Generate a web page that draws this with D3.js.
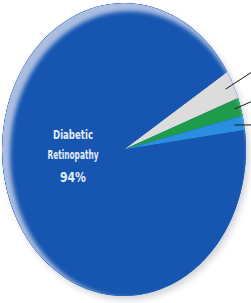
<!DOCTYPE html>
<html><head><meta charset="utf-8">
<script src="https://cdn.jsdelivr.net/npm/d3@7"></script>
<style>html,body{margin:0;padding:0;background:#fff;overflow:hidden}</style>
</head><body>
<svg id="c" width="251" height="303"></svg>
<script>
const categories = ["Other A", "Other B", "Other C", "Diabetic Retinopathy"];
const values = [3.2, 2.0, 1.6, 93.2];
const colors = ["#dcdcdc", "#1e9b4b", "#2a8fe0", "#1656b0"];
const mainLabel = ["Diabetic", "Retinopathy", "94%"];

const W = 251, H = 303;
const cx = 124, cy = 149.5, rx = 122, ry = 146.5;
const svg = d3.select("#c");
const defs = svg.append("defs");

defs.append("filter").attr("id","blur2").attr("x","-10%").attr("y","-10%").attr("width","120%").attr("height","120%")
  .append("feGaussianBlur").attr("stdDeviation", 2.2);
defs.append("filter").attr("id","blur4").attr("x","-10%").attr("y","-10%").attr("width","120%").attr("height","120%")
  .append("feGaussianBlur").attr("stdDeviation", 3);

const m = defs.append("mask").attr("id","cres");
m.append("ellipse").attr("cx",cx).attr("cy",cy).attr("rx",rx).attr("ry",ry).attr("fill","#fff");
m.append("ellipse").attr("cx",cx+5).attr("cy",cy+5).attr("rx",rx-3).attr("ry",ry-3).attr("fill","#000").attr("filter","url(#blur2)");

svg.append("ellipse").attr("cx",cx+3).attr("cy",cy+4).attr("rx",rx).attr("ry",ry)
  .attr("fill","#9aa0aa").attr("opacity",0.45).attr("filter","url(#blur4)");

const pie = d3.pie().sort(null).value(d => d)
  .startAngle(57.9 * Math.PI / 180).endAngle((57.9 + 360) * Math.PI / 180);
const arcs = pie(values);
const arc = d3.arc().innerRadius(0).outerRadius(1);

const g = svg.append("g").attr("transform", `translate(${cx},${cy}) scale(${rx},${ry})`);
g.append("ellipse").attr("rx",1).attr("ry",1).attr("fill", colors[3]);
g.selectAll("path.s").data(arcs).join("path").attr("class","s")
  .attr("d", arc).attr("fill", (d,i) => colors[i]);

svg.append("ellipse").attr("cx",cx).attr("cy",cy).attr("rx",rx).attr("ry",ry)
  .attr("fill","#c5d0ea").attr("opacity",0.85).attr("mask","url(#cres)");

const slopes = [-0.65, -0.44, 0.0];
const kf = [0.93, 0.95, 0.92];
arcs.slice(0,3).forEach((d,i) => {
  const a = (d.startAngle + d.endAngle) / 2;
  const x0 = cx + rx * kf[i] * Math.sin(a);
  const y0 = cy - ry * kf[i] * Math.cos(a);
  const x1 = W + 4;
  const y1 = y0 + slopes[i] * (x1 - x0);
  svg.append("line").attr("x1",x0).attr("y1",y0).attr("x2",x1).attr("y2",y1)
    .attr("stroke","#1a1a1a").attr("stroke-width",1);
});

const t = svg.append("g").attr("font-family","'Liberation Sans Narrow','DejaVu Sans Condensed','Open Sans',sans-serif")
  .attr("font-weight","bold").attr("fill","#e4ecf8").attr("text-anchor","middle");
const lab = [[mainLabel[0],139,12,40],[mainLabel[1],159,12,51],[mainLabel[2],182,14.5,26]];
lab.forEach(([s,y,fs,w]) => {
  t.append("text").attr("x",73).attr("y",y).attr("font-size",fs+"px")
    .attr("textLength",w).attr("lengthAdjust","spacingAndGlyphs").text(s);
});
</script>
</body></html>
